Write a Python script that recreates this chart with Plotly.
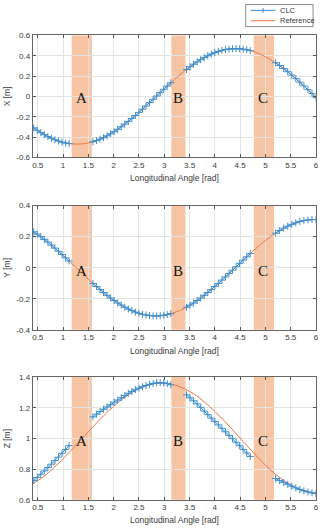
import plotly.graph_objects as go

# ---------------- data ----------------
# reference curve angles
ref_theta = [0.4, 0.6, 0.8, 1.0, 1.2, 1.4, 1.6, 1.8, 2.0, 2.2, 2.4, 2.6, 2.8, 3.0,
             3.2, 3.4, 3.6, 3.8, 4.0, 4.2, 4.4, 4.6, 4.8, 5.0, 5.2, 5.4, 5.6, 5.8, 6.0]
ref_x = [-0.303, -0.368, -0.419, -0.453, -0.469, -0.466, -0.445, -0.406, -0.350, -0.281,
         -0.201, -0.112, -0.019, 0.074, 0.165, 0.250, 0.324, 0.385, 0.431, 0.460,
         0.470, 0.462, 0.435, 0.390, 0.331, 0.259, 0.175, 0.085, -0.012]
ref_y = [0.235, 0.190, 0.137, 0.079, 0.018, -0.043, -0.104, -0.160, -0.209, -0.250,
         -0.282, -0.302, -0.310, -0.306, -0.289, -0.261, -0.223, -0.175, -0.121, -0.062,
         0.000, 0.061, 0.120, 0.175, 0.222, 0.261, 0.289, 0.305, 0.310]
ref_z = [0.703, 0.747, 0.803, 0.867, 0.936, 1.007, 1.079, 1.147, 1.209, 1.263,
         1.307, 1.338, 1.356, 1.360, 1.349, 1.324, 1.287, 1.236, 1.176, 1.110,
         1.038, 0.965, 0.893, 0.826, 0.766, 0.717, 0.679, 0.653, 0.641]

# CLC samples, four segments separated by the gaps A, B, C
clc_theta_1 = [0.42, 0.49, 0.56, 0.63, 0.70, 0.77, 0.84, 0.91, 0.98, 1.05, 1.12]
clc_theta_2 = [1.59, 1.66, 1.73, 1.80, 1.87, 1.94, 2.01, 2.08, 2.15, 2.22, 2.29, 2.36,
               2.43, 2.50, 2.57, 2.64, 2.71, 2.78, 2.85, 2.92, 2.99, 3.06, 3.13]
clc_theta_3 = [3.44, 3.51, 3.58, 3.65, 3.72, 3.79, 3.86, 3.93, 4.00, 4.07, 4.14, 4.21,
               4.28, 4.35, 4.42, 4.49, 4.56, 4.63, 4.70]
clc_theta_4 = [5.20, 5.28, 5.36, 5.44, 5.52, 5.60, 5.68, 5.76, 5.84, 5.92, 6.00]

clc_x_1 = [-0.310, -0.334, -0.356, -0.377, -0.396, -0.412, -0.427, -0.440, -0.450, -0.459, -0.465]
clc_x_2 = [-0.446, -0.435, -0.421, -0.406, -0.388, -0.368, -0.347, -0.324, -0.299, -0.273,
           -0.246, -0.217, -0.188, -0.157, -0.126, -0.094, -0.061, -0.029, 0.004, 0.037,
           0.070, 0.102, 0.134]
clc_x_3 = [0.265, 0.292, 0.317, 0.340, 0.362, 0.382, 0.400, 0.417, 0.431, 0.443, 0.453,
           0.461, 0.467, 0.469, 0.470, 0.469, 0.465, 0.459, 0.451]
clc_x_4 = [0.331, 0.304, 0.274, 0.243, 0.210, 0.175, 0.140, 0.104, 0.067, 0.029, -0.012]

clc_y_1 = [0.231, 0.216, 0.200, 0.182, 0.165, 0.145, 0.126, 0.106, 0.085, 0.064, 0.043]
clc_y_2 = [-0.101, -0.121, -0.141, -0.160, -0.178, -0.195, -0.211, -0.227, -0.241, -0.254,
           -0.266, -0.276, -0.286, -0.293, -0.300, -0.304, -0.308, -0.310, -0.310, -0.309,
           -0.306, -0.302, -0.296]
clc_y_3 = [-0.254, -0.241, -0.227, -0.211, -0.195, -0.178, -0.160, -0.141, -0.121, -0.101,
           -0.080, -0.059, -0.037, -0.016, 0.006, 0.028, 0.049, 0.070, 0.091]
clc_y_4 = [0.222, 0.239, 0.254, 0.267, 0.279, 0.289, 0.297, 0.303, 0.307, 0.310, 0.310]

clc_z_1 = [0.725, 0.745, 0.766, 0.788, 0.810, 0.832, 0.855, 0.878, 0.903, 0.928, 0.953]
clc_z_2 = [1.140, 1.158, 1.175, 1.190, 1.205, 1.220, 1.236, 1.250, 1.265, 1.280, 1.294,
           1.306, 1.318, 1.328, 1.337, 1.345, 1.352, 1.358, 1.362, 1.363, 1.362, 1.357, 1.350]
clc_z_3 = [1.284, 1.265, 1.245, 1.225, 1.202, 1.178, 1.155, 1.132, 1.110, 1.088, 1.066,
           1.043, 1.020, 0.998, 0.975, 0.952, 0.928, 0.905, 0.882]
clc_z_4 = [0.738, 0.725, 0.712, 0.700, 0.688, 0.677, 0.667, 0.658, 0.651, 0.645, 0.641]

# shaded regions
region_labels = ["A", "B", "C"]
region_start = [1.17, 3.14, 4.77]
region_end = [1.57, 3.42, 5.17]
region_label_x = [1.37, 3.28, 4.96]

x_ticks = [0.5, 1, 1.5, 2, 2.5, 3, 3.5, 4, 4.5, 5, 5.5, 6]
x_tick_text = ["0.5", "1", "1.5", "2", "2.5", "3", "3.5", "4", "4.5", "5", "5.5", "6"]
y_ticks_x = [-0.6, -0.4, -0.2, 0, 0.2, 0.4, 0.6]
y_ticks_x_text = ["-0.6", "-0.4", "-0.2", "0", "0.2", "0.4", "0.6"]
y_ticks_y = [-0.4, -0.2, 0, 0.2, 0.4]
y_ticks_y_text = ["-0.4", "-0.2", "0", "0.2", "0.4"]
y_ticks_z = [0.6, 0.8, 1, 1.2, 1.4]
y_ticks_z_text = ["0.6", "0.8", "1", "1.2", "1.4"]

panel_ylabels = ["X [m]", "Y [m]", "Z [m]"]
panel_yranges = [[-0.6, 0.6], [-0.4, 0.4], [0.6, 1.4]]
panel_label_y = [-0.02, -0.02, 0.98]
series_names = ["CLC", "Reference"]

# ---------------- build ----------------
W, H = 323, 530
BLUE = "#3f8fcf"
ORANGE = "#e8774a"
TXT = "#3a3a3a"
FONT = "Liberation Sans, Arial, sans-serif"


def join(segs):
    out = []
    for i, s in enumerate(segs):
        if i:
            out.append(None)
        out.extend(s)
    return out


clc_theta = join([clc_theta_1, clc_theta_2, clc_theta_3, clc_theta_4])
clc_vals = [join([clc_x_1, clc_x_2, clc_x_3, clc_x_4]),
            join([clc_y_1, clc_y_2, clc_y_3, clc_y_4]),
            join([clc_z_1, clc_z_2, clc_z_3, clc_z_4])]
ref_vals = [ref_x, ref_y, ref_z]
yticks = [(y_ticks_x, y_ticks_x_text), (y_ticks_y, y_ticks_y_text), (y_ticks_z, y_ticks_z_text)]

# pixel boxes (top, bottom) of each axes
px_left, px_right = 33, 319
boxes = [(32, 156), (205, 331.5), (379.5, 504.3)]


def px(xp):
    return xp / W


def py(yp):
    return 1 - yp / H


fig = go.Figure()
layout = dict(
    width=W, height=H, margin=dict(l=0, r=0, t=0, b=0),
    paper_bgcolor="white", plot_bgcolor="white",
    font=dict(family=FONT, size=8, color=TXT),
    showlegend=False,
)
shapes = []
annotations = []

for i in range(3):
    xa = "x" if i == 0 else f"x{i+1}"
    ya = "y" if i == 0 else f"y{i+1}"
    xkey = "xaxis" if i == 0 else f"xaxis{i+1}"
    ykey = "yaxis" if i == 0 else f"yaxis{i+1}"
    top, bot = boxes[i]
    dom_y = [py(bot), py(top)]
    layout[xkey] = dict(domain=[px(px_left), px(px_right)], range=[0.4, 6.0], anchor=ya,
                        tickvals=x_ticks, ticktext=x_tick_text, ticks="inside", ticklen=3,
                        tickcolor="#555", showline=True, linecolor="#666", linewidth=1,
                        mirror="ticks", showgrid=True, gridcolor="#e3e3e3", gridwidth=1,
                        zeroline=False, tickfont=dict(size=8, color=TXT))
    yv, yt = yticks[i]
    layout[ykey] = dict(domain=dom_y, range=panel_yranges[i], anchor=xa,
                        tickvals=yv, ticktext=yt, ticks="inside", ticklen=3,
                        tickcolor="#555", showline=True, linecolor="#666", linewidth=1,
                        mirror="ticks", showgrid=True, gridcolor="#e3e3e3", gridwidth=1,
                        zeroline=False, tickfont=dict(size=8, color=TXT))

    for s, e in zip(region_start, region_end):
        shapes.append(dict(type="rect", xref=xa, yref=f"{ya} domain", x0=s, x1=e, y0=0, y1=1,
                           fillcolor="rgba(240,150,90,0.55)", line=dict(width=0), layer="below"))

    fig.add_trace(go.Scatter(x=ref_theta, y=ref_vals[i], mode="lines", xaxis=xa, yaxis=ya,
                             line=dict(color=ORANGE, width=1, shape="spline"),
                             name=series_names[1]))
    fig.add_trace(go.Scatter(x=clc_theta, y=clc_vals[i], mode="lines+markers", xaxis=xa, yaxis=ya,
                             line=dict(color=BLUE, width=1),
                             marker=dict(symbol="cross-thin", size=5,
                                         line=dict(color=BLUE, width=1)),
                             name=series_names[0], connectgaps=False))

    for lab, lx in zip(region_labels, region_label_x):
        annotations.append(dict(x=lx, y=panel_label_y[i], xref=xa, yref=ya, text=lab,
                                showarrow=False, font=dict(family="Liberation Serif, Times New Roman, serif",
                                                           size=15, color="#111")))
    # axis titles
    annotations.append(dict(x=px((px_left + px_right) / 2), y=py(bot + 21),
                            xref="paper", yref="paper", text="Longitudinal Angle [rad]",
                            showarrow=False, font=dict(size=8.5, color=TXT),
                            xanchor="center", yanchor="middle"))
    annotations.append(dict(x=px(7), y=py((top + bot) / 2), xref="paper", yref="paper",
                            text=panel_ylabels[i], textangle=-90, showarrow=False,
                            font=dict(size=8.5, color=TXT), xanchor="center", yanchor="middle"))

# legend box (top right, above first panel)
lg_l, lg_r, lg_t, lg_b = 248, 316, 0.5, 23
shapes.append(dict(type="rect", xref="paper", yref="paper", x0=px(lg_l), x1=px(lg_r),
                   y0=py(lg_b), y1=py(lg_t), fillcolor="white", line=dict(color="#8a8a8a", width=1)))
row_y = [6.5, 17]
row_col = [BLUE, ORANGE]
for k in range(2):
    shapes.append(dict(type="line", xref="paper", yref="paper", x0=px(253), x1=px(278),
                       y0=py(row_y[k]), y1=py(row_y[k]), line=dict(color=row_col[k], width=1)))
    annotations.append(dict(x=px(281), y=py(row_y[k]), xref="paper", yref="paper",
                            text=series_names[k], showarrow=False, xanchor="left", yanchor="middle",
                            font=dict(size=7.5, color=TXT)))
# plus marker on CLC legend line
shapes.append(dict(type="line", xref="paper", yref="paper", x0=px(265.5), x1=px(265.5),
                   y0=py(row_y[0] - 2.5), y1=py(row_y[0] + 2.5), line=dict(color=BLUE, width=1)))

layout["shapes"] = shapes
layout["annotations"] = annotations
fig.update_layout(**layout)
fig.write_html("out.html")
